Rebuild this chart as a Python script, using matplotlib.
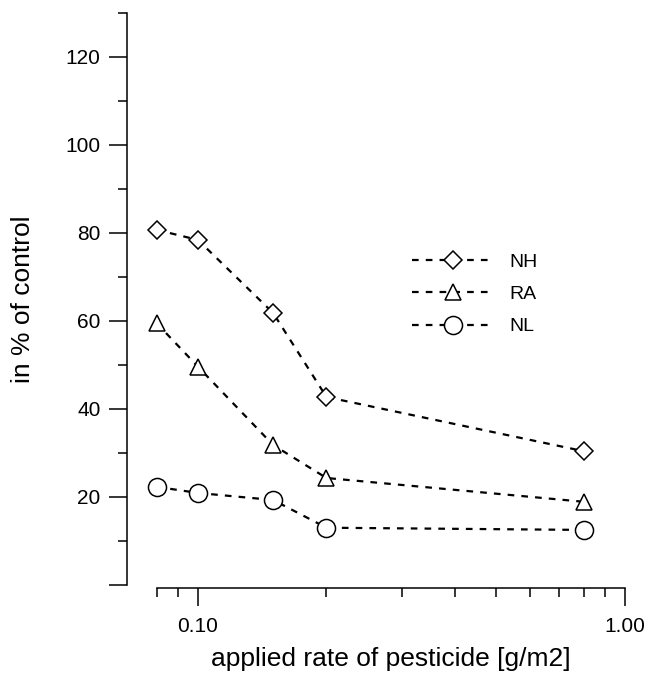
import matplotlib
matplotlib.use("Agg")
import matplotlib.pyplot as plt
from matplotlib.ticker import FixedLocator, FuncFormatter, NullFormatter

# applied rate (g/m2) and response in % of control
rates = [0.08, 0.10, 0.15, 0.20, 0.80]
nh = [80.7, 78.4, 61.8, 42.7, 30.4]
ra = [59.5, 49.6, 31.8, 24.3, 18.9]
nl = [22.3, 20.9, 19.3, 13.0, 12.5]

series_names = ["NH", "RA", "NL"]
series_markers = ["D", "^", "o"]
series_sizes = [9, 12, 13]

y_major = [0, 20, 40, 60, 80, 100, 120]
y_minor = [10, 30, 50, 70, 90, 110, 130]
x_major = [0.1, 1.0]
x_minor = [0.08, 0.09, 0.2, 0.3, 0.4, 0.5, 0.6, 0.7, 0.8, 0.9]

plt.rcParams["font.family"] = ["Liberation Sans", "DejaVu Sans"]

fig = plt.figure(figsize=(6.51, 6.77), dpi=100, facecolor="white")
ax = fig.add_axes([0.195, 0.136, 0.765, 0.845])

for values, name, marker, size in zip([nh, ra, nl], series_names, series_markers, series_sizes):
    ax.plot(
        rates, values,
        color="black",
        linestyle=(0, (3.0, 3.2)),
        linewidth=1.6,
        marker=marker,
        markersize=size,
        markerfacecolor="white",
        markeredgecolor="black",
        markeredgewidth=1.1,
        label=name,
    )

ax.set_xscale("log")
ax.set_xlim(0.0682, 1.0)
ax.set_ylim(0, 130)

for side in ["top", "right"]:
    ax.spines[side].set_visible(False)
ax.spines["left"].set_linewidth(1.1)
ax.spines["bottom"].set_linewidth(1.1)
ax.spines["bottom"].set_bounds(0.08, 1.0)
ax.spines["bottom"].set_position(("outward", 2))

ax.xaxis.set_major_locator(FixedLocator(x_major))
ax.xaxis.set_minor_locator(FixedLocator(x_minor))
ax.xaxis.set_major_formatter(FuncFormatter(lambda v, p: f"{v:.2f}"))
ax.xaxis.set_minor_formatter(NullFormatter())

ax.yaxis.set_major_locator(FixedLocator(y_major))
ax.yaxis.set_minor_locator(FixedLocator(y_minor))
ax.yaxis.set_major_formatter(FuncFormatter(lambda v, p: "" if v == 0 else f"{v:.0f}"))

ax.tick_params(axis="both", which="major", direction="out", length=13, width=1.1,
               labelsize=15, color="black")
ax.tick_params(axis="both", which="minor", direction="out", length=6.5, width=1.1, color="black")
ax.tick_params(axis="x", which="major", pad=8)
ax.tick_params(axis="y", which="major", pad=6)

ax.set_ylabel("in % of control", fontsize=19)
ax.yaxis.set_label_coords(-0.185, 0.5)
ax.set_xlabel("applied rate of pesticide [g/m2]", fontsize=19)
ax.xaxis.set_label_coords(0.53, -0.108)

ax.legend(
    loc="upper left",
    bbox_to_anchor=(0.538, 0.61),
    frameon=False,
    fontsize=14,
    handlelength=4.2,
    handletextpad=0.8,
    labelspacing=0.75,
)

fig.savefig("out.png", dpi=100, facecolor="white")
